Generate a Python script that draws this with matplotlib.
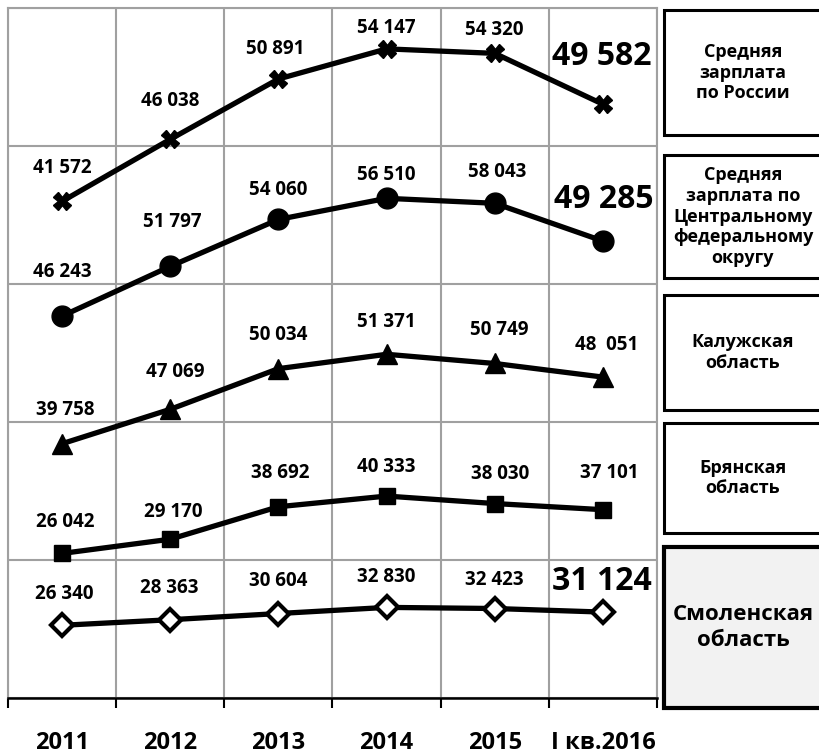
import matplotlib
matplotlib.use("Agg")
import matplotlib.pyplot as plt
import matplotlib.transforms as mtransforms
from matplotlib.patches import Rectangle
import numpy as np

plt.rcParams['font.family'] = ['Open Sans', 'DejaVu Sans']

categories = ["2011", "2012", "2013", "2014", "2015", "I кв.2016"]

smolensk = [26340, 28363, 30604, 32830, 32423, 31124]
bryansk = [26042, 29170, 38692, 40333, 38030, 37101]
kaluga = [39758, 47069, 50034, 51371, 50749, 48051]
cfo = [46243, 51797, 54060, 56510, 58043, 49285]
russia = [41572, 46038, 50891, 54147, 54320, 49582]

series_names = ["Смоленская\nобласть", "Брянская\nобласть", "Калужская\nобласть",
                "Средняя\nзарплата по\nЦентральному\nфедеральному\nокругу",
                "Средняя\nзарплата\nпо России"]

# label offsets in pixels (dx, dy) relative to point, baseline-anchored
offs = {
    'smolensk': [(2, -26), (-1, -27), (0, -28), (0, -25), (0, -24), (-1, -22)],
    'bryansk': [(3, -26), (3, -22), (2, -29), (0, -24), (5, -25), (6, -32)],
    'kaluga': [(3, -29), (5, -32), (0, -29), (0, -27), (5, -28), (4, -27)],
    'cfo': [(0, -39), (2, -39), (0, -24), (0, -18), (2, -26), (1, -33)],
    'russia': [(0, -28), (0, -33), (-3, -25), (0, -16), (0, -18), (-1, -39)],
}

W, H = 819, 756
fig = plt.figure(figsize=(W / 100, H / 100), dpi=100)
ax = fig.add_axes([8 / W, 1 - 698 / H, (657 - 8) / W, 690 / H])

x = np.arange(len(categories))
data = [('smolensk', smolensk, 'D'), ('bryansk', bryansk, 's'), ('kaluga', kaluga, '^'),
        ('cfo', cfo, 'o'), ('russia', russia, 'X')]

cum = np.zeros(len(categories))
big = {('russia', 5), ('cfo', 5), ('smolensk', 5)}
for key, vals, mk in data:
    cum = cum + np.array(vals)
    kw = dict(color='black', lw=3.8, marker=mk, zorder=5, solid_capstyle='butt')
    if mk == 'D':
        kw.update(markersize=11.5, markerfacecolor='white', markeredgecolor='black', markeredgewidth=3.0)
    elif mk == 's':
        kw.update(markersize=11)
    elif mk == 'o':
        kw.update(markersize=15)
    elif mk == '^':
        kw.update(markersize=14)
    elif mk == 'X':
        kw.update(markersize=12.5)
    ax.plot(x, cum, **kw)
    for i, v in enumerate(vals):
        lab = f"{v:,}".replace(",", " ")
        if key == 'kaluga' and i == 5:
            lab = lab.replace(" ", "  ")
        fs = 23 if (key, i) in big else 13.5
        dx, dy = offs[key][i]
        ax.annotate(lab, (x[i], cum[i]), xytext=(dx, -dy), textcoords='offset pixels',
                    ha='center', va='baseline', fontsize=fs, fontweight='bold', zorder=6)

ax.set_xlim(-0.5, 5.5)
ax.set_ylim(0, 250000)
ax.set_yticks(np.arange(0, 250001, 50000))
ax.set_xticks(np.arange(-0.5, 5.6, 1.0))
ax.set_xticklabels([])
ax.set_yticklabels([])
ax.tick_params(axis='y', length=0)
ax.tick_params(axis='x', direction='out', length=7, width=1.5, color='black')
ax.grid(True, color='#a0a0a0', lw=1.5, zorder=0)
ax.set_axisbelow(True)
for s in ['top', 'left', 'right']:
    ax.spines[s].set_color('#a0a0a0')
    ax.spines[s].set_linewidth(1.5)
ax.spines['bottom'].set_color('black')
ax.spines['bottom'].set_linewidth(1.8)

trans = mtransforms.blended_transform_factory(ax.transData, ax.transAxes)
for i, c in enumerate(categories):
    ax.text(x[i], -57 / 690, c, transform=trans, ha='center', va='bottom',
            fontsize=17, fontweight='bold')

# right boxes (pixel coordinates: top, bottom)
boxes = [(10, 135), (155, 278), (295, 410), (423, 533), (547, 708)]
box_names = [series_names[4], series_names[3], series_names[2], series_names[1], series_names[0]]
for j, ((t, b), name) in enumerate(zip(boxes, box_names)):
    last = (j == 4)
    r = Rectangle((664 / W, 1 - b / H), 170 / W, (b - t) / H, transform=fig.transFigure,
                  facecolor='#f2f2f2' if last else 'white', edgecolor='black',
                  lw=3.0 if last else 2.2, clip_on=False)
    fig.patches.append(r)
    fig.text(743 / W, 1 - (t + b) / 2 / H, name, ha='center', va='center',
             fontsize=16 if last else 13, fontweight='bold', linespacing=1.2 if not last else 1.25)

fig.savefig("out.png", dpi=100)
